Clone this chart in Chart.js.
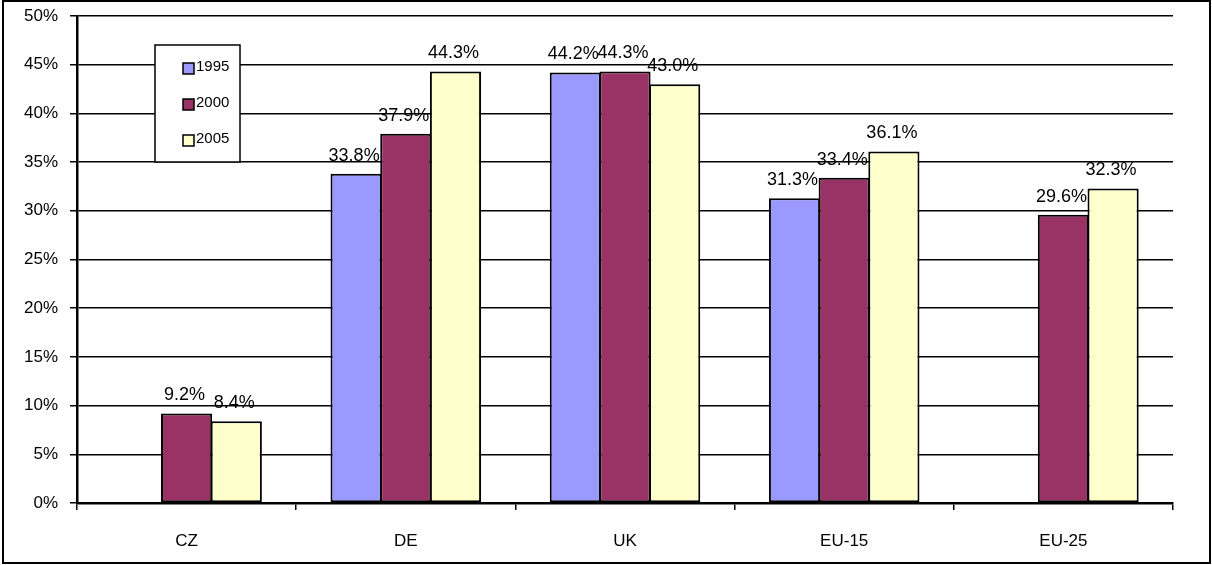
<!DOCTYPE html>
<html>
<head>
<meta charset="utf-8">
<script src="https://cdn.jsdelivr.net/npm/chart.js@4"></script>
<style>
  html, body { margin:0; padding:0; background:#fff; }
  #wrap { width:1212px; height:565px; }
</style>
</head>
<body>
<div id="wrap"><canvas id="chart" width="1212" height="565"></canvas></div>
<script>
// data
const countries = ['CZ', 'DE', 'UK', 'EU-15', 'EU-25'];
const years     = ['1995', '2000', '2005'];
const v1995     = [null, 33.8, 44.2, 31.3, null];
const v2000     = [9.2, 37.9, 44.3, 33.4, 29.6];
const v2005     = [8.4, 44.3, 43.0, 36.1, 32.3];
const yTicks    = [0, 5, 10, 15, 20, 25, 30, 35, 40, 45, 50];

const colors = ['#9999FF', '#993366', '#FFFFCC'];
const FONT = 'Liberation Sans, Arial, sans-serif';

// white background + outer frame
const framePlugin = {
  id: 'frame',
  beforeDraw(chart) {
    const c = chart.ctx;
    c.save();
    c.fillStyle = '#fff';
    c.fillRect(0, 0, chart.width, chart.height);
    c.restore();
  },
  afterDraw(chart) {
    const c = chart.ctx;
    c.save();
    c.strokeStyle = '#000';
    c.lineWidth = 2;
    c.strokeRect(3, 1, 1207, 562);
    c.restore();
  }
};

// value labels above the bars
const labelPlugin = {
  id: 'valueLabels',
  afterDatasetsDraw(chart) {
    const c = chart.ctx;
    c.save();
    c.font = '18px ' + FONT;
    c.fillStyle = '#000';
    c.textAlign = 'center';
    c.textBaseline = 'bottom';
    chart.data.datasets.forEach((ds, i) => {
      chart.getDatasetMeta(i).data.forEach((bar, j) => {
        const v = ds.data[j];
        if (v == null) return;
        c.fillText(v.toFixed(1) + '%', bar.x - 2, bar.y - 9);
      });
    });
    c.restore();
  }
};

// boxed legend floating inside the plot, Excel style
const legendBox = {
  id: 'legendBox',
  afterDraw(chart) {
    const c = chart.ctx;
    c.save();
    c.fillStyle = '#fff';
    c.fillRect(155, 45, 85, 117);
    c.strokeStyle = '#000';
    c.lineWidth = 1.5;
    c.strokeRect(155, 45, 85, 117);
    c.font = '15px ' + FONT;
    c.textBaseline = 'middle';
    chart.data.datasets.forEach((ds, i) => {
      const y = 68 + i * 36;
      c.fillStyle = ds.backgroundColor;
      c.fillRect(183, y - 5, 11, 11);
      c.lineWidth = 1.5;
      c.strokeRect(183, y - 5, 11, 11);
      c.fillStyle = '#000';
      c.fillText(ds.label, 196, y - 1);
    });
    c.restore();
  }
};

new Chart(document.getElementById('chart'), {
  type: 'bar',
  data: {
    labels: countries,
    datasets: [v1995, v2000, v2005].map((d, i) => ({
      label: years[i],
      data: d,
      backgroundColor: colors[i],
      borderColor: '#000',
      borderWidth: 2,
      borderSkipped: false,
      categoryPercentage: 0.68,
      barPercentage: 1.03
    }))
  },
  options: {
    responsive: false,
    animation: false,
    layout: { padding: { left: 0, right: 39, top: 16, bottom: 0 } },
    plugins: { legend: { display: false }, tooltip: { enabled: false } },
    scales: {
      x: {
        afterFit(s) { s.height = 62; s.paddingLeft = 0; s.paddingRight = 0; },
        grid: { offset: true, drawOnChartArea: false, drawTicks: true, tickLength: 7, color: '#000', lineWidth: 1.5 },
        border: { color: '#000', width: 2.5 },
        ticks: { color: '#000', font: { family: FONT, size: 17 }, padding: 21 }
      },
      y: {
        min: 0, max: 50,
        afterFit(s) { s.width = 77; s.paddingTop = 0; s.paddingBottom = 0; },
        afterBuildTicks(s) { s.ticks = yTicks.map(v => ({ value: v })); },
        grid: { color: '#000', lineWidth: 1.5, tickLength: 7 },
        border: { color: '#000', width: 2.5 },
        ticks: { color: '#000', font: { family: FONT, size: 17 }, padding: 12, callback: v => v + '%' }
      }
    }
  },
  plugins: [framePlugin, labelPlugin, legendBox]
});
</script>
</body>
</html>
